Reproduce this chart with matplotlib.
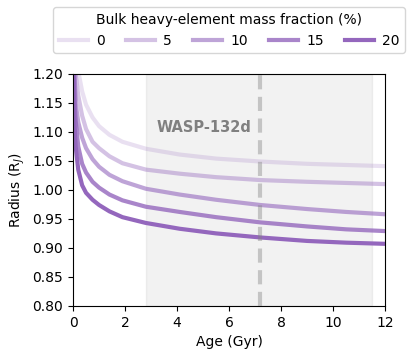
import numpy as np
import matplotlib.pyplot as plt

# Age grid (Gyr) and radius tracks (R_J) for each bulk heavy-element fraction
ages = [0.01, 0.05, 0.1, 0.2, 0.35, 0.5, 0.75, 1.0, 1.4, 1.9, 2.8, 4.1, 5.5, 7.2, 9.0, 10.5, 12.0]
z_labels = ["0", "5", "10", "15", "20"]
r_z0 = [1.45, 1.33, 1.26, 1.205, 1.17, 1.147, 1.125, 1.11, 1.095, 1.083, 1.071, 1.061, 1.054, 1.049, 1.045, 1.043, 1.041]
r_z5 = [1.40, 1.26, 1.20, 1.163, 1.128, 1.105, 1.083, 1.072, 1.058, 1.046, 1.035, 1.028, 1.022, 1.017, 1.014, 1.012, 1.010]
r_z10 = [1.35, 1.21, 1.15, 1.117, 1.09, 1.072, 1.053, 1.04, 1.026, 1.015, 1.002, 0.992, 0.983, 0.974, 0.967, 0.962, 0.958]
r_z15 = [1.30, 1.17, 1.12, 1.075, 1.045, 1.03, 1.014, 1.004, 0.992, 0.982, 0.971, 0.962, 0.953, 0.944, 0.937, 0.932, 0.929]
r_z20 = [1.25, 1.12, 1.075, 1.035, 1.008, 0.995, 0.983, 0.974, 0.963, 0.953, 0.943, 0.933, 0.925, 0.918, 0.912, 0.909, 0.907]
tracks = [r_z0, r_z5, r_z10, r_z15, r_z20]
alphas = [0.2, 0.4, 0.6, 0.8, 1.0]

# Planet age estimate
age_lo, age_hi = 2.8, 11.5
age_best = 7.2

fig = plt.figure(figsize=(4.15, 3.59), dpi=100)
ax = fig.add_axes([0.176, 0.148, 0.752, 0.646])

ax.axvspan(age_lo, age_hi, color="gray", alpha=0.1)
ax.axvline(age_best, color="gray", linestyle="--", linewidth=3, alpha=0.4,
           dashes=(3.4, 1.8), zorder=3)
ax.text(3.23, 1.108, "WASP-132d", color="gray", fontsize=10.5, fontweight="bold", va="center")

for lab, r, a in zip(z_labels, tracks, alphas):
    ax.plot(ages, r, color="tab:purple", alpha=a, linewidth=3, label=lab)

ax.set_xlim(0, 12)
ax.set_ylim(0.8, 1.2)
ax.set_xticks([0, 2, 4, 6, 8, 10, 12])
ax.set_yticks(np.arange(0.80, 1.201, 0.05))
ax.set_xlabel("Age (Gyr)")
ax.set_ylabel("Radius (R$_J$)")

ax.legend(title="Bulk heavy-element mass fraction (%)", ncol=5, loc="lower center",
          bbox_to_anchor=(0.5, 1.06), columnspacing=1.5, handlelength=2.1,
          handletextpad=0.6, title_fontsize=10, fontsize=10)

fig.savefig("out.png", dpi=100)
